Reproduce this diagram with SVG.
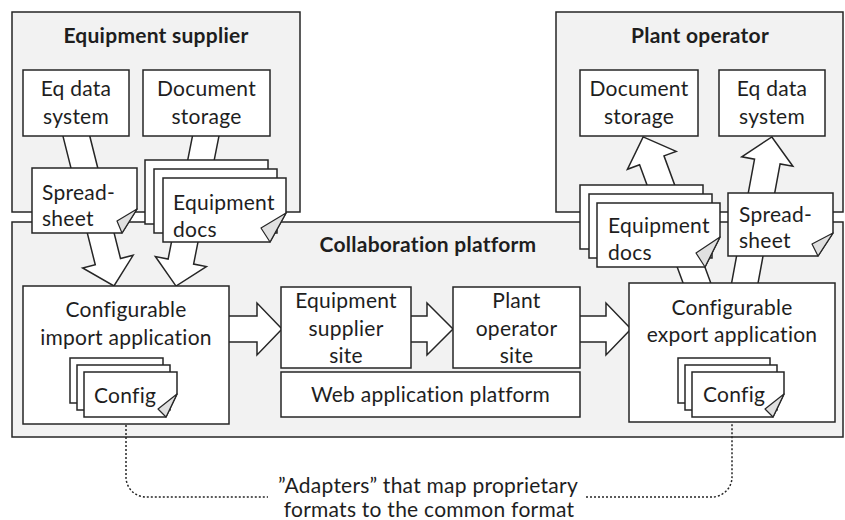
<svg xmlns="http://www.w3.org/2000/svg" width="845" height="520" viewBox="0 0 845 520">
  <style>
    .area { fill: #f2f2f2; stroke: #262626; stroke-width: 1.5; }
    .box { fill: #ffffff; stroke: #262626; stroke-width: 1.5; }
    .fold { fill: #e0e0e0; stroke: #262626; stroke-width: 1.2; stroke-linejoin: round; }
    .blk { fill: #ffffff; stroke: #262626; stroke-width: 1.5; stroke-linejoin: miter; }
    .dot { fill: none; stroke: #262626; stroke-width: 1.5; stroke-dasharray: 2 2; }
    text { font-family: Lato, "Liberation Sans", sans-serif; font-size: 21px; letter-spacing: 0.25px; fill: #1e1e1e; }
    .c { text-anchor: middle; }
    .h { font-weight: bold; }
  </style>

  <!-- organisation areas -->
  <g id="equipment-supplier">
    <rect class="area" x="12" y="12" width="288" height="200"/>
    <text class="c h" x="156" y="43">Equipment supplier</text>
  </g>
  <g id="plant-operator">
    <rect class="area" x="556" y="12" width="287" height="200"/>
    <text class="c h" x="700" y="43">Plant operator</text>
  </g>
  <g id="collaboration-platform">
    <rect class="area" x="12" y="222" width="831" height="215"/>
    <text class="c h" x="428" y="252">Collaboration platform</text>
  </g>

  <!-- block arrows and adapter brackets -->
  <g id="connectors">
    <polygon class="blk" transform="translate(75,130.7) rotate(-14.1)" points="-13,0 13,0 13,135 26,135 0,160 -26,135 -13,135"/>
    <polygon class="blk" transform="translate(206.7,131.1) rotate(11.2)" points="-13,0 13,0 13,133 26,133 0,158 -26,133 -13,133"/>
    <polygon class="blk" transform="translate(698.6,287.6) rotate(159.8)" points="-13,0 13,0 13,135.6 26,135.6 0,160.6 -26,135.6 -13,135.6"/>
    <polygon class="blk" transform="translate(743.9,287.9) rotate(-169.5)" points="-13,0 13,0 13,128.5 26,128.5 0,153.5 -26,128.5 -13,128.5"/>
    <polygon class="blk" points="225,316 257,316 257,303 282,329 257,355 257,342 225,342"/>
    <polygon class="blk" points="407,316 427,316 427,303 453,329 427,355 427,342 407,342"/>
    <polygon class="blk" points="576,316 606,316 606,303 631,329 606,355 606,342 576,342"/>
    <path class="dot" d="M126,425 V477 A20,20 0 0 0 146,497 H268"/>
    <path class="dot" d="M586,497 H712 A20,20 0 0 0 732,477 V423"/>
  </g>

  <!-- systems -->
  <g id="es-eq-data-system">
    <rect class="box" x="23" y="70" width="106" height="66"/>
    <text class="c" x="76" y="96">Eq data</text>
    <text class="c" x="76" y="124">system</text>
  </g>
  <g id="es-document-storage">
    <rect class="box" x="143" y="70" width="127" height="66"/>
    <text class="c" x="206.5" y="96">Document</text>
    <text class="c" x="206.5" y="124">storage</text>
  </g>
  <g id="po-document-storage">
    <rect class="box" x="580" y="70" width="118" height="66"/>
    <text class="c" x="639" y="96">Document</text>
    <text class="c" x="639" y="124">storage</text>
  </g>
  <g id="po-eq-data-system">
    <rect class="box" x="719" y="70" width="106" height="66"/>
    <text class="c" x="772" y="96">Eq data</text>
    <text class="c" x="772" y="124">system</text>
  </g>

  <g id="import-application">
    <rect class="box" x="23" y="286" width="206" height="138"/>
    <text class="c" x="126" y="317">Configurable</text>
    <text class="c" x="126" y="345">import application</text>
    <rect class="box" x="70" y="358" width="93" height="45"/>
    <rect class="box" x="77" y="365" width="93" height="45"/>
    <path class="box" d="M84,372 H177 V394 L166,417 H84 Z"/>
    <path class="fold" d="M177,394 L166,417 L158,409 Z"/>
    <text x="94" y="403">Config</text>
  </g>
  <g id="export-application">
    <rect class="box" x="629" y="283" width="206" height="139"/>
    <text class="c" x="732" y="315">Configurable</text>
    <text class="c" x="732" y="342">export application</text>
    <rect class="box" x="678" y="358" width="92" height="45"/>
    <rect class="box" x="685" y="365" width="92" height="45"/>
    <path class="box" d="M692,372 H784 V394 L773,417 H692 Z"/>
    <path class="fold" d="M784,394 L773,417 L765,409 Z"/>
    <text x="703" y="402">Config</text>
  </g>

  <g id="equipment-supplier-site">
    <rect class="box" x="281" y="287" width="130" height="81"/>
    <text class="c" x="346" y="308">Equipment</text>
    <text class="c" x="346" y="336">supplier</text>
    <text class="c" x="346" y="363">site</text>
  </g>
  <g id="plant-operator-site">
    <rect class="box" x="453" y="287" width="127" height="81"/>
    <text class="c" x="516.5" y="308">Plant</text>
    <text class="c" x="516.5" y="336">operator</text>
    <text class="c" x="516.5" y="363">site</text>
  </g>
  <g id="web-application-platform">
    <rect class="box" x="281" y="372" width="299" height="45"/>
    <text class="c" x="430.5" y="402">Web application platform</text>
  </g>

  <!-- documents in transit -->
  <g id="es-spreadsheet">
    <path class="box" d="M32,168 H137 V209 L122,233 H32 Z"/>
    <path class="fold" d="M137,209 L122,233 L117,221 Z"/>
    <text x="42" y="200">Spread-</text>
    <text x="42" y="226">sheet</text>
  </g>
  <g id="es-equipment-docs">
    <rect class="box" x="145" y="160" width="123" height="64"/>
    <rect class="box" x="154" y="169" width="123" height="64"/>
    <path class="box" d="M163,178 H286 V213 L270,242 H163 Z"/>
    <path class="fold" d="M286,213 L270,242 L261,228 Z"/>
    <text x="173" y="210">Equipment</text>
    <text x="173" y="237">docs</text>
  </g>
  <g id="po-equipment-docs">
    <rect class="box" x="580" y="185" width="123" height="64"/>
    <rect class="box" x="589" y="194" width="123" height="64"/>
    <path class="box" d="M597,203 H720 V237 L705,267 H597 Z"/>
    <path class="fold" d="M720,237 L705,267 L696,253 Z"/>
    <text x="608" y="233">Equipment</text>
    <text x="608" y="260">docs</text>
  </g>
  <g id="po-spreadsheet">
    <path class="box" d="M728,193 H833 V233 L818,256 H728 Z"/>
    <path class="fold" d="M833,233 L818,256 L812,244 Z"/>
    <text x="739" y="222">Spread-</text>
    <text x="739" y="248">sheet</text>
  </g>

  <g id="adapters-note">
    <text class="c" x="428" y="493">”Adapters” that map proprietary</text>
    <text class="c" x="429" y="517">formats to the common format</text>
  </g>
</svg>
